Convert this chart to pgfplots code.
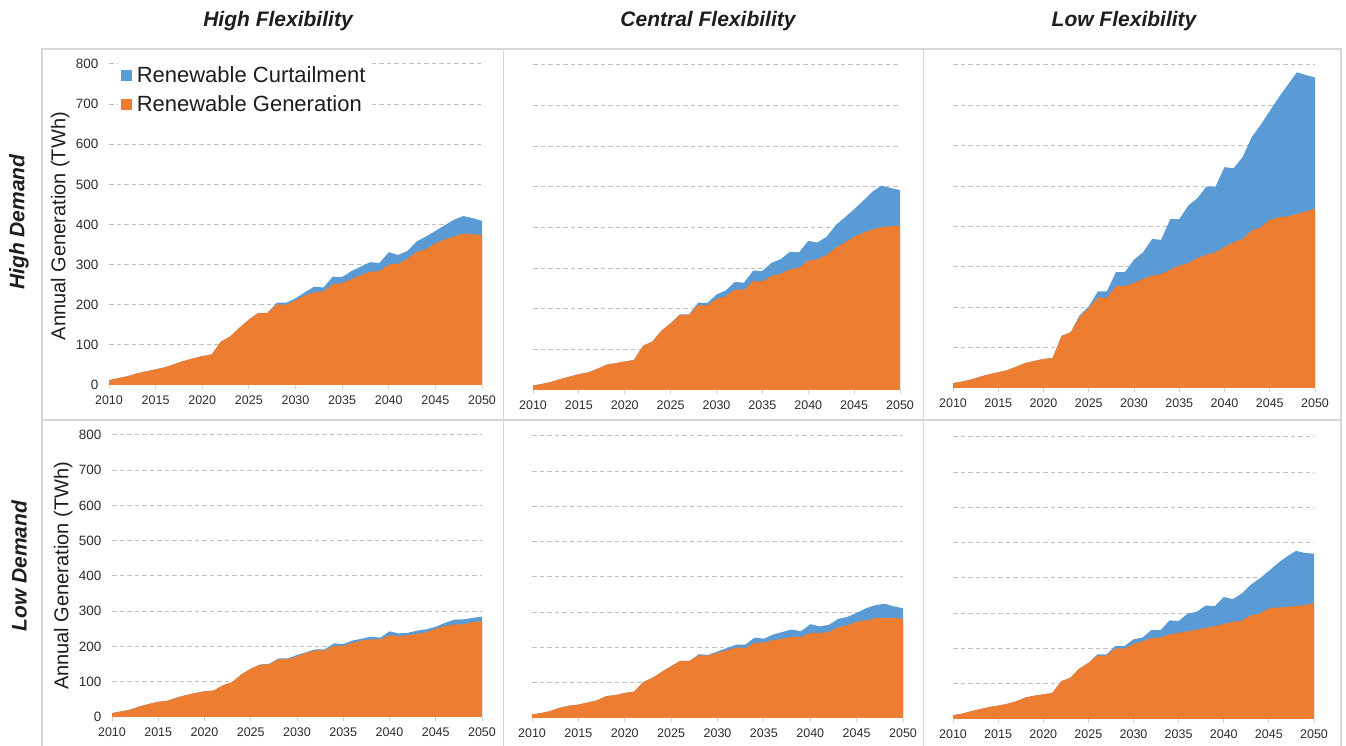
\documentclass[border=0pt]{standalone}
\usepackage{pgfplots}
\pgfplotsset{compat=1.18}
\usepackage{pgfplotstable}
\usepackage{fontspec}
\setmainfont{Liberation Sans}

\definecolor{curt}{RGB}{91,155,213}
\definecolor{gen}{RGB}{237,125,49}
\definecolor{gridgray}{RGB}{192,192,192}
\definecolor{axisgray}{RGB}{210,210,210}
\definecolor{framegray}{RGB}{214,214,214}
\definecolor{ticktxt}{RGB}{45,45,45}
\definecolor{txt}{RGB}{30,30,30}

% Annual renewable generation and generation + curtailment (TWh)
% High demand, high flexibility
\pgfplotstableread{
year gen tot
2010 12 12
2011 17 17
2012 22 22
2013 29 29
2014 34 34
2015 39 39
2016 44 44
2017 52 52
2018 60 60
2019 66 66
2020 72 72
2021 76 76
2022 108 108
2023 121 121
2024 143 143
2025 163 163
2026 179 180
2027 179 180
2028 201 205
2029 200 205
2030 211 216
2031 223 231
2032 231 245
2033 233 243
2034 251 270
2035 254 269
2036 264 284
2037 274 295
2038 282 306
2039 284 304
2040 300 331
2041 302 324
2042 314 334
2043 332 358
2044 338 370
2045 353 384
2046 363 398
2047 370 412
2048 377 421
2049 376 416
2050 373 409
}\hdhf
% High demand, central flexibility
\pgfplotstableread{
year gen tot
2010 11 11
2011 15 15
2012 20 20
2013 27 27
2014 33 33
2015 39 39
2016 43 43
2017 52 52
2018 62 62
2019 66 66
2020 70 70
2021 74 74
2022 109 109
2023 119 119
2024 146 146
2025 164 164
2026 185 186
2027 185 186
2028 209 215
2029 208 214
2030 224 235
2031 231 245
2032 247 266
2033 247 264
2034 268 294
2035 267 293
2036 281 313
2037 286 322
2038 297 340
2039 301 339
2040 318 367
2041 322 363
2042 332 377
2043 350 406
2044 363 425
2045 377 445
2046 387 466
2047 395 488
2048 401 503
2049 403 497
2050 405 492
}\hdcf
% High demand, low flexibility
\pgfplotstableread{
year gen tot
2010 12 12
2011 16 16
2012 21 21
2013 28 28
2014 34 34
2015 39 39
2016 44 44
2017 53 53
2018 62 62
2019 67 67
2020 72 72
2021 74 74
2022 129 129
2023 138 138
2024 176 180
2025 198 202
2026 224 239
2027 224 239
2028 252 287
2029 252 287
2030 260 318
2031 270 336
2032 278 369
2033 282 367
2034 293 418
2035 303 418
2036 309 452
2037 322 470
2038 330 499
2039 336 499
2040 349 547
2041 361 544
2042 369 572
2043 390 621
2044 398 652
2045 416 686
2046 423 720
2047 425 751
2048 431 782
2049 437 775
2050 444 769
}\hdlf
% Low demand, high flexibility
\pgfplotstableread{
year gen tot
2010 11 11
2011 16 16
2012 21 21
2013 30 30
2014 37 37
2015 43 43
2016 46 46
2017 55 55
2018 62 62
2019 68 68
2020 73 73
2021 75 75
2022 90 90
2023 99 99
2024 121 121
2025 137 137
2026 148 149
2027 150 151
2028 164 166
2029 164 166
2030 172 176
2031 182 184
2032 189 192
2033 189 192
2034 202 209
2035 202 207
2036 210 217
2037 217 222
2038 220 228
2039 220 225
2040 232 243
2041 229 237
2042 232 239
2043 236 245
2044 240 249
2045 251 256
2046 258 267
2047 263 276
2048 263 277
2049 269 281
2050 272 285
}\ldhf
% Low demand, central flexibility
\pgfplotstableread{
year gen tot
2010 10 10
2011 14 14
2012 20 20
2013 29 29
2014 35 35
2015 38 38
2016 44 44
2017 50 50
2018 62 62
2019 65 65
2020 71 71
2021 75 75
2022 102 102
2023 114 114
2024 131 131
2025 147 147
2026 162 162
2027 162 162
2028 178 181
2029 177 179
2030 185 189
2031 192 198
2032 200 208
2033 199 208
2034 213 228
2035 214 225
2036 221 237
2037 225 244
2038 230 251
2039 230 246
2040 241 266
2041 241 260
2042 244 264
2043 257 281
2044 263 287
2045 273 298
2046 277 311
2047 283 320
2048 284 324
2049 284 317
2050 282 311
}\ldcf
% Low demand, low flexibility
\pgfplotstableread{
year gen tot
2010 11 11
2011 15 15
2012 22 22
2013 28 28
2014 34 34
2015 38 38
2016 43 43
2017 50 50
2018 61 61
2019 66 66
2020 70 70
2021 74 74
2022 107 107
2023 117 117
2024 143 143
2025 159 159
2026 180 183
2027 180 183
2028 200 207
2029 200 207
2030 213 226
2031 220 231
2032 230 253
2033 231 252
2034 240 280
2035 244 278
2036 249 299
2037 253 304
2038 259 322
2039 263 320
2040 270 346
2041 275 340
2042 279 356
2043 294 381
2044 299 399
2045 314 420
2046 316 442
2047 318 461
2048 321 477
2049 323 471
2050 329 469
}\ldlf

\pgfplotsset{
  panel/.style={
    scale only axis, anchor=south west,
    xmin=2010, xmax=2050, ymin=0, ymax=800,
    xtick={2010,2015,...,2050}, ytick={0,100,...,800},
    axis x line*=bottom, axis y line*=left,
    y axis line style={draw=none},
    x axis line style={draw=axisgray, line width=1pt},
    xtick align=outside, ytick align=inside,
    major tick length=4pt,
    xtick style={draw=axisgray, line width=1pt},
    ytick style={draw=none},
    ymajorgrids,
    grid style={draw=gridgray, dash pattern=on 4.5pt off 3pt, line width=1pt},
    /pgf/number format/1000 sep={},
    /pgf/number format/assume math mode=true,
    xticklabel style={font=\fontsize{12.5}{14}\selectfont, text=ticktxt, yshift=-3pt},
    yticklabel style={font=\fontsize{13.5}{15}\selectfont, text=ticktxt, xshift=-7pt},
    clip=false,
  },
  noylabels/.style={yticklabels={}},
  ylab/.style={
    ylabel={Annual Generation (TWh)},
    ylabel style={at={(axis description cs:#1)}, rotate=0, anchor=center,
      font=\fontsize{20}{24}\selectfont, text=txt},
  },
}

\newcommand{\panelplots}[1]{%
  \addplot[fill=curt, draw=none] table[x=year, y=tot]{#1} \closedcycle;
  \addplot[fill=gen, draw=none] table[x=year, y=gen]{#1} \closedcycle;
}

\begin{document}
\begin{tikzpicture}
\path[use as bounding box] (0pt,0pt) rectangle (1346pt,746pt);

% panel frames
\begin{scope}[framegray, line width=1.2pt]
\draw (42pt,0pt) -- (42pt,697pt) -- (1341pt,697pt) -- (1341pt,0pt);
\draw (42pt,326pt) -- (1341pt,326pt);
\draw (503.5pt,0pt) -- (503.5pt,697pt);
\draw (923.5pt,0pt) -- (923.5pt,697pt);
\end{scope}

% column and row headings
\begin{scope}[every node/.style={font=\fontsize{21}{25}\selectfont\bfseries\itshape, text=txt}]
\node at (278pt,725pt) {High Flexibility};
\node at (708pt,725pt) {Central Flexibility};
\node at (1124pt,725pt) {Low Flexibility};
\node[rotate=90] at (19pt,524pt) {High Demand};
\node[rotate=90] at (19pt,180pt) {Low Demand};
\end{scope}

% High demand row
\begin{axis}[panel, ylab={-0.131,0.495}, at={(109pt,361pt)}, width=373pt, height=321pt,
  legend style={at={(axis description cs:0.023,1.005)}, anchor=north west,
    draw=none, fill=white, font=\fontsize{22}{26}\selectfont, text=txt,
    row sep=8pt, inner xsep=3pt, inner ysep=2pt},
  legend cell align=left,
  legend image code/.code={%
    \fill[#1] (0pt,-5.5pt) rectangle (11pt,5.5pt);
    \path (0pt,0pt) -- (14pt,0pt);},
]
\panelplots{\hdhf}
\legend{Renewable Curtailment, Renewable Generation}
\end{axis}

\begin{axis}[panel, noylabels, at={(533pt,356pt)}, width=367pt, height=325pt]
\panelplots{\hdcf}
\end{axis}

\begin{axis}[panel, noylabels, at={(953pt,358pt)}, width=362pt, height=323pt]
\panelplots{\hdlf}
\end{axis}

% Low demand row
\begin{axis}[panel, ylab={-0.132,0.5}, at={(112pt,29pt)}, width=370pt, height=282pt]
\panelplots{\ldhf}
\end{axis}

\begin{axis}[panel, noylabels, at={(532pt,28pt)}, width=371pt, height=282pt]
\panelplots{\ldcf}
\end{axis}

\begin{axis}[panel, noylabels, at={(953pt,27pt)}, width=361pt, height=282pt]
\panelplots{\ldlf}
\end{axis}
\end{tikzpicture}
\end{document}
